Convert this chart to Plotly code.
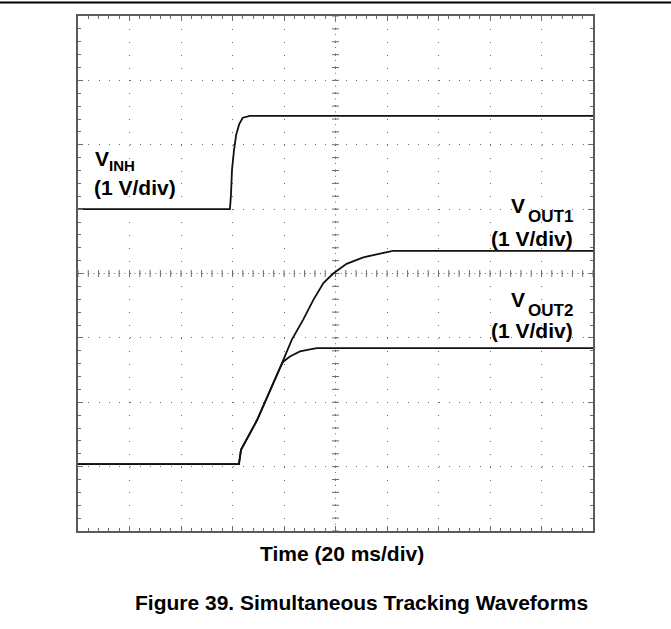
import numpy as np
import plotly.graph_objects as go

# Scope traces: time in ms (20 ms/div), vertical position in screen divisions (1 V/div)
vinh_t = [0, 59.0, 59.4, 59.8, 60.6, 61.4, 62.6, 64.0, 66.8, 200]
vinh_v = [5.00, 5.00, 5.22, 5.61, 5.92, 6.15, 6.32, 6.42, 6.45, 6.45]

vout1_t = [0, 62.5, 63.3, 69.5, 78.4, 83.0, 87.4, 91.4, 95.3, 99.1, 104.3, 110.8, 117.3, 122.3, 200]
vout1_v = [1.04, 1.04, 1.26, 1.72, 2.53, 2.97, 3.28, 3.59, 3.85, 4.00, 4.15, 4.25, 4.31, 4.35, 4.35]

vout2_t = [0, 62.5, 63.3, 69.5, 78.4, 79.7, 82.3, 86.2, 90.1, 92.8, 200]
vout2_v = [1.04, 1.04, 1.26, 1.72, 2.53, 2.63, 2.71, 2.79, 2.82, 2.84, 2.84]

MS_PER_DIV = 20
X_DIVS = 10
Y_DIVS = 8

FONT = "Liberation Sans, Arial, sans-serif"
TRACE = "#111111"
GRID = "#6e6e6e"

fig = go.Figure()

# Centre graticule lines carry finer tick marks
cx = X_DIVS * MS_PER_DIV / 2
cy = Y_DIVS / 2
hx = np.arange(0, X_DIVS * MS_PER_DIV + 0.01, MS_PER_DIV / 5)
vy = np.arange(0, Y_DIVS + 0.001, 0.2)
fig.add_trace(go.Scatter(x=hx, y=np.full_like(hx, cy), mode="markers",
                         marker=dict(symbol="line-ns", size=5, line=dict(width=1, color=GRID)),
                         hoverinfo="skip", showlegend=False))
fig.add_trace(go.Scatter(x=np.full_like(vy, cx), y=vy, mode="markers",
                         marker=dict(symbol="line-ew", size=5, line=dict(width=1, color=GRID)),
                         hoverinfo="skip", showlegend=False))

for t, v in ((vinh_t, vinh_v), (vout1_t, vout1_v), (vout2_t, vout2_v)):
    fig.add_trace(go.Scatter(x=t, y=v, mode="lines",
                             line=dict(color=TRACE, width=1.8),
                             hoverinfo="skip", showlegend=False))


def label(text, x, y, anchor, size=21):
    fig.add_annotation(text=f"<b>{text}</b>", x=x, y=y, xref="x", yref="y",
                       xanchor=anchor, yanchor="middle", showarrow=False,
                       font=dict(family=FONT, size=size, color="#000000"))


# V_INH (left side)
label("V", 5.8, 5.79, "left")
label("INH", 11.4, 5.68, "left", size=15)
label("(1 V/div)", 5.6, 5.33, "left")
# V_OUT1 (right side)
label("V", 174.2, 5.06, "right")
label("OUT1", 193.0, 4.88, "right", size=17)
label("(1 V/div)", 193.0, 4.55, "right")
# V_OUT2 (right side)
label("V", 174.2, 3.59, "right")
label("OUT2", 193.0, 3.43, "right", size=17)
label("(1 V/div)", 193.0, 3.11, "right")

title_font = dict(family=FONT, size=21, color="#000000")
fig.add_annotation(text="<b>Time (20 ms/div)</b>", x=0.5126, y=-0.0437,
                   xref="paper", yref="paper", xanchor="center", yanchor="middle",
                   showarrow=False, font=title_font)
fig.add_annotation(text="<b>Figure 39. Simultaneous Tracking Waveforms</b>",
                   x=0.1068, y=-0.1388, xref="paper", yref="paper",
                   xanchor="left", yanchor="middle", showarrow=False,
                   font=title_font)

# Denser dotting along the centre lines
fig.add_shape(type="line", xref="x", yref="y", x0=0, x1=X_DIVS * MS_PER_DIV,
              y0=cy, y1=cy, line=dict(color=GRID, width=1, dash="1px,4.15px"), layer="below")
fig.add_shape(type="line", xref="x", yref="y", x0=cx, x1=cx,
              y0=0, y1=Y_DIVS, line=dict(color=GRID, width=1, dash="1px,5.44px"), layer="below")

# Page rule above the figure
fig.add_shape(type="line", xref="paper", yref="paper", x0=-78 / 515, x1=1 + 78 / 515,
              y0=1 + 13.5 / 515, y1=1 + 13.5 / 515, line=dict(color="#000000", width=2))

axis_common = dict(showline=True, linecolor="#5a5a5a", linewidth=2, mirror="allticks",
                   ticks="inside", ticklen=5, tickcolor=GRID, tickwidth=1,
                   showticklabels=False, zeroline=False, showgrid=True,
                   gridcolor=GRID, gridwidth=1)

fig.update_xaxes(range=[0, X_DIVS * MS_PER_DIV], dtick=MS_PER_DIV, griddash="1px,11.875px",
                 minor=dict(ticks="inside", ticklen=3, dtick=MS_PER_DIV / 5, tickcolor=GRID,
                            showgrid=False),
                 **axis_common)
fig.update_yaxes(range=[0, Y_DIVS], dtick=1, griddash="1px,9.3px",
                 minor=dict(ticks="inside", ticklen=3, dtick=0.2, tickcolor=GRID,
                            showgrid=False),
                 **axis_common)

fig.update_layout(width=671, height=629, margin=dict(l=78, r=78, t=16, b=98),
                  plot_bgcolor="#ffffff", paper_bgcolor="#ffffff",
                  font=dict(family=FONT), showlegend=False)

fig.write_html("out.html")
